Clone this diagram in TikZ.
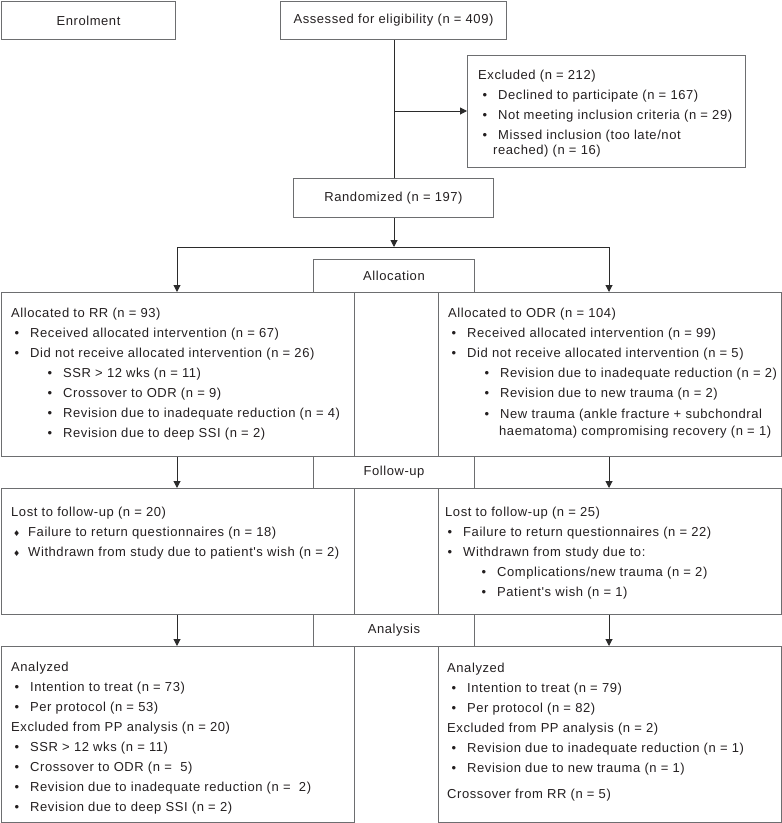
\documentclass[tikz,border=0pt]{standalone}
\usepackage{fontspec}
\setmainfont{Liberation Sans}[LetterSpace=4.4, Ligatures=TeXOff]
\newfontfamily\djv{DejaVu Sans}
\usetikzlibrary{arrows.meta}
\definecolor{boxc}{HTML}{6D6E70}
\definecolor{linec}{HTML}{2B2B2B}
\definecolor{txtc}{HTML}{231F20}
\newcommand\bu{\llap{\textbullet\hspace{11bp}}}
\newcommand\dm{\llap{{\djv\fontsize{8bp}{8bp}\selectfont ♦}\hspace{8bp}}}
\newcommand\tline[4]{\node[txt] (#1) at (#2,#3) {#4};}
\begin{document}
\begin{tikzpicture}[x=1bp,y=-1bp,
  font=\fontsize{13bp}{20bp}\selectfont, text=txtc,
  box/.style={draw=boxc, line width=1bp, anchor=north west, inner sep=0pt},
  txt/.style={anchor=base west, inner sep=0pt, yshift=-4.7bp},
  conn/.style={draw=linec, line width=1bp},
  arr/.style={conn, -{Triangle[width=7bp,length=7bp]}}]
\useasboundingbox (0,0) rectangle (782,823);
% single-line boxes
\node[box, minimum width=174bp, minimum height=38bp] (enrol) at (1,1) {Enrolment\hspace{7bp}};
\node[box, minimum width=226bp, minimum height=38bp] (assess) at (280,1) {Assessed for eligibility (n = 409)};
\node[box, minimum width=200bp, minimum height=39bp] (rand) at (293,178) {Randomized (n = 197)};
\node[box, minimum width=278bp, minimum height=112bp] (excl) at (467,55) {};
\node[box, minimum width=161bp, minimum height=33bp] (alloc) at (313,259) {Allocation};
\node[box, minimum width=353bp, minimum height=164bp] (rr) at (1,292) {};
\node[box, minimum width=343bp, minimum height=164bp] (odr) at (438,292) {};
\node[box, minimum width=161bp, minimum height=32bp] (fu) at (313,456) {Follow-up};
\node[box, minimum width=353bp, minimum height=126bp] (lostl) at (1,488) {};
\node[box, minimum width=343bp, minimum height=126bp] (lostr) at (438,488) {};
\node[box, minimum width=161bp, minimum height=32bp] (ana) at (313,614) {Analysis};
\node[box, minimum width=353bp, minimum height=176bp] (anl) at (1,646) {};
\node[box, minimum width=343bp, minimum height=176bp] (anr) at (438,646) {};
% connectors
\coordinate (j1) at (394,111);
\coordinate (j2) at (394,247);
\coordinate (jl) at (177,247);
\coordinate (jr) at (609,247);
\draw[conn] (394,0 |- assess.south) -- (394,0 |- rand.north);
\draw[arr] (j1) -- (j1 -| excl.west);
\draw[arr] (394,0 |- rand.south) -- (j2);
\draw[conn] (jl) -- (jr);
\draw[arr] (jl) -- (jl |- rr.north);
\draw[arr] (jr) -- (jr |- odr.north);
\draw[arr] (jl |- rr.south) -- (jl |- lostl.north);
\draw[arr] (jr |- odr.south) -- (jr |- lostr.north);
\draw[arr] (jl |- lostl.south) -- (jl |- anl.north);
\draw[arr] (jr |- lostr.south) -- (jr |- anr.north);
% excluded
\tline{ex0}{478}{75}{Excluded (n = 212)}
\tline{ex1}{498}{95}{\bu Declined to participate (n = 167)}
\tline{ex2}{498}{115}{\bu Not meeting inclusion criteria (n = 29)}
\tline{ex3}{498}{135}{\bu Missed inclusion (too late/not}
\tline{ex4}{493}{150}{reached) (n = 16)}
% RR
\tline{rr0}{11}{313}{Allocated to RR (n = 93)}
\tline{rr1}{30}{333}{\bu Received allocated intervention (n = 67)}
\tline{rr2}{30}{353}{\bu Did not receive allocated intervention (n = 26)}
\tline{rr3}{63}{373}{\bu SSR > 12 wks (n = 11)}
\tline{rr4}{63}{393}{\bu Crossover to ODR (n = 9)}
\tline{rr5}{63}{413}{\bu Revision due to inadequate reduction (n = 4)}
\tline{rr6}{63}{433}{\bu Revision due to deep SSI (n = 2)}
% ODR
\tline{od0}{448}{313}{Allocated to ODR (n = 104)}
\tline{od1}{467}{333}{\bu Received allocated intervention (n = 99)}
\tline{od2}{467}{353}{\bu Did not receive allocated intervention (n = 5)}
\tline{od3}{500}{373}{\bu Revision due to inadequate reduction (n = 2)}
\tline{od4}{500}{393}{\bu Revision due to new trauma (n = 2)}
\tline{od5}{500}{414}{\bu New trauma (ankle fracture + subchondral}
\tline{od6}{499}{431}{haematoma) compromising recovery (n = 1)}
% lost left
\tline{ll0}{11}{512}{Lost to follow-up (n = 20)}
\tline{ll1}{28}{532}{\dm Failure to return questionnaires (n = 18)}
\tline{ll2}{28}{552}{\dm Withdrawn from study due to patient's wish (n = 2)}
% lost right
\tline{lr0}{445}{512}{Lost to follow-up (n = 25)}
\tline{lr1}{463}{532}{\bu Failure to return questionnaires (n = 22)}
\tline{lr2}{463}{552}{\bu Withdrawn from study due to:}
\tline{lr3}{497}{572}{\bu Complications/new trauma (n = 2)}
\tline{lr4}{497}{592}{\bu Patient's wish (n = 1)}
% analysis left
\tline{al0}{11}{667}{Analyzed}
\tline{al1}{30}{687}{\bu Intention to treat (n = 73)}
\tline{al2}{30}{707}{\bu Per protocol (n = 53)}
\tline{al3}{11}{727}{Excluded from PP analysis (n = 20)}
\tline{al4}{30}{747}{\bu SSR > 12 wks (n = 11)}
\tline{al5}{30}{767}{\bu Crossover to ODR (n = \ 5)}
\tline{al6}{30}{787}{\bu Revision due to inadequate reduction (n = \ 2)}
\tline{al7}{30}{807}{\bu Revision due to deep SSI (n = 2)}
% analysis right
\tline{ar0}{447}{668}{Analyzed}
\tline{ar1}{467}{688}{\bu Intention to treat (n = 79)}
\tline{ar2}{467}{708}{\bu Per protocol (n = 82)}
\tline{ar3}{447}{728}{Excluded from PP analysis (n = 2)}
\tline{ar4}{467}{748}{\bu Revision due to inadequate reduction (n = 1)}
\tline{ar5}{467}{768}{\bu Revision due to new trauma (n = 1)}
\tline{ar6}{447}{794}{Crossover from RR (n = 5)}
\end{tikzpicture}
\end{document}
